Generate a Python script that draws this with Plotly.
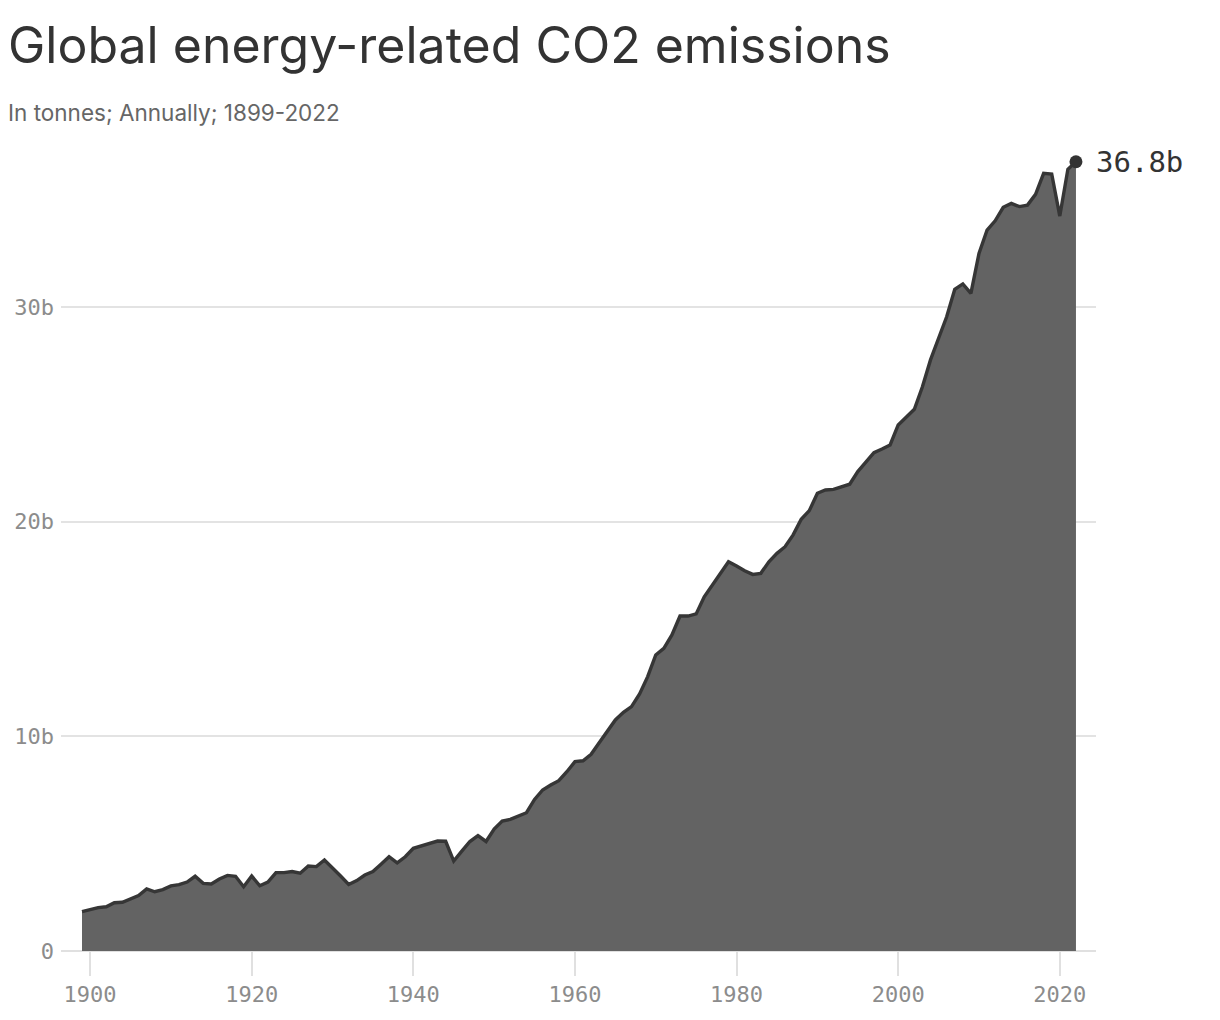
import plotly.graph_objects as go

# Annual global energy-related CO2 emissions, billions of tonnes (1899-2022)
years = list(range(1899, 2023))
emissions = [
    1.83,                                                        # 1899
    1.92, 2.02, 2.06, 2.25, 2.27, 2.44, 2.58, 2.89, 2.76, 2.86,  # 1900s
    3.03, 3.09, 3.21, 3.48, 3.15, 3.12, 3.35, 3.52, 3.48, 2.99,  # 1910s
    3.49, 3.04, 3.21, 3.65, 3.65, 3.70, 3.62, 3.96, 3.93, 4.24,  # 1920s
    3.88, 3.49, 3.10, 3.28, 3.54, 3.70, 4.04, 4.39, 4.11, 4.39,  # 1930s
    4.78, 4.89, 4.97, 5.12, 5.11, 4.19, 4.65, 5.10, 5.37, 5.10,  # 1940s
    5.68, 6.05, 6.13, 6.29, 6.44, 7.06, 7.50, 7.73, 7.93, 8.35,  # 1950s
    8.82, 8.86, 9.16, 9.70, 10.21, 10.76, 11.12, 11.38, 11.97, 12.78,  # 1960s
    13.79, 14.10, 14.72, 15.60, 15.60, 15.70, 16.50, 17.05, 17.59, 18.13,  # 1970s
    17.93, 17.71, 17.54, 17.59, 18.13, 18.52, 18.83, 19.38, 20.11, 20.51,  # 1980s
    21.32, 21.47, 21.50, 21.60, 21.74, 22.33, 22.79, 23.21, 23.38, 23.57,  # 1990s
    24.50, 24.89, 25.23, 26.28, 27.53, 28.54, 29.54, 30.82, 31.07, 30.63,  # 2000s
    32.49, 33.58, 34.01, 34.64, 34.82, 34.67, 34.74, 35.24, 36.22, 36.19,  # 2010s
    34.23, 36.41, 36.76,                                         # 2020s
]
y_ticks = [0, 10, 20, 30]
y_tick_labels = ["0", "10b", "20b", "30b"]
x_ticks = [1900, 1920, 1940, 1960, 1980, 2000, 2020]
last_label = "36.8b"

TITLE = "Global energy-related CO2 emissions"
SUBTITLE = "In tonnes; Annually; 1899-2022"

SANS = "Inter, Roboto, 'Noto Sans', sans-serif"
MONO = "'DejaVu Sans Mono', 'Liberation Mono', monospace"

fig = go.Figure()

fig.add_trace(go.Scatter(
    x=years,
    y=emissions,
    mode="lines",
    fill="tozeroy",
    fillcolor="#636363",
    line={"color": "#363636", "width": 3.4},
    hoverinfo="x+y",
    showlegend=False,
))

# end point marker
fig.add_trace(go.Scatter(
    x=[years[-1]],
    y=[emissions[-1]],
    mode="markers",
    marker={"color": "#333333", "size": 13},
    cliponaxis=False,
    showlegend=False,
))

fig.update_layout(
    width=1220,
    height=1020,
    margin={"l": 53, "r": 132, "t": 140, "b": 77},
    plot_bgcolor="white",
    paper_bgcolor="white",
    annotations=[
        dict(text=TITLE, xref="paper", yref="paper", x=-0.0532, y=1.128,
             xanchor="left", yanchor="middle", showarrow=False,
             font={"family": SANS, "size": 50, "color": "#333333"}),
        dict(text=SUBTITLE, xref="paper", yref="paper", x=-0.0532, y=1.0448,
             xanchor="left", yanchor="middle", showarrow=False,
             font={"family": SANS, "size": 22.5, "color": "#666666"}),
        dict(text=last_label, x=years[-1], y=emissions[-1],
             xanchor="left", yanchor="middle", xshift=18, showarrow=False,
             font={"family": MONO, "size": 29, "color": "#333333"}),
    ],
)

fig.update_xaxes(
    range=[1896.4, 2024.48],
    tickvals=x_ticks,
    ticks="outside",
    ticklen=24,
    tickwidth=2,
    tickcolor="#e0e0e0",
    showgrid=False,
    zeroline=False,
    showline=False,
    tickfont={"family": MONO, "size": 22, "color": "#8c8c8c"},
)

fig.update_yaxes(
    range=[0, 37.4],
    tickvals=y_ticks,
    ticktext=y_tick_labels,
    automargin=False,
    showgrid=True,
    gridcolor="#e3e3e3",
    gridwidth=1.5,
    zeroline=True,
    zerolinecolor="#e0e0e0",
    zerolinewidth=2,
    showline=False,
    ticks="",
    ticklabelstandoff=6,
    tickfont={"family": MONO, "size": 22, "color": "#8c8c8c"},
)

fig.write_html("out.html")
